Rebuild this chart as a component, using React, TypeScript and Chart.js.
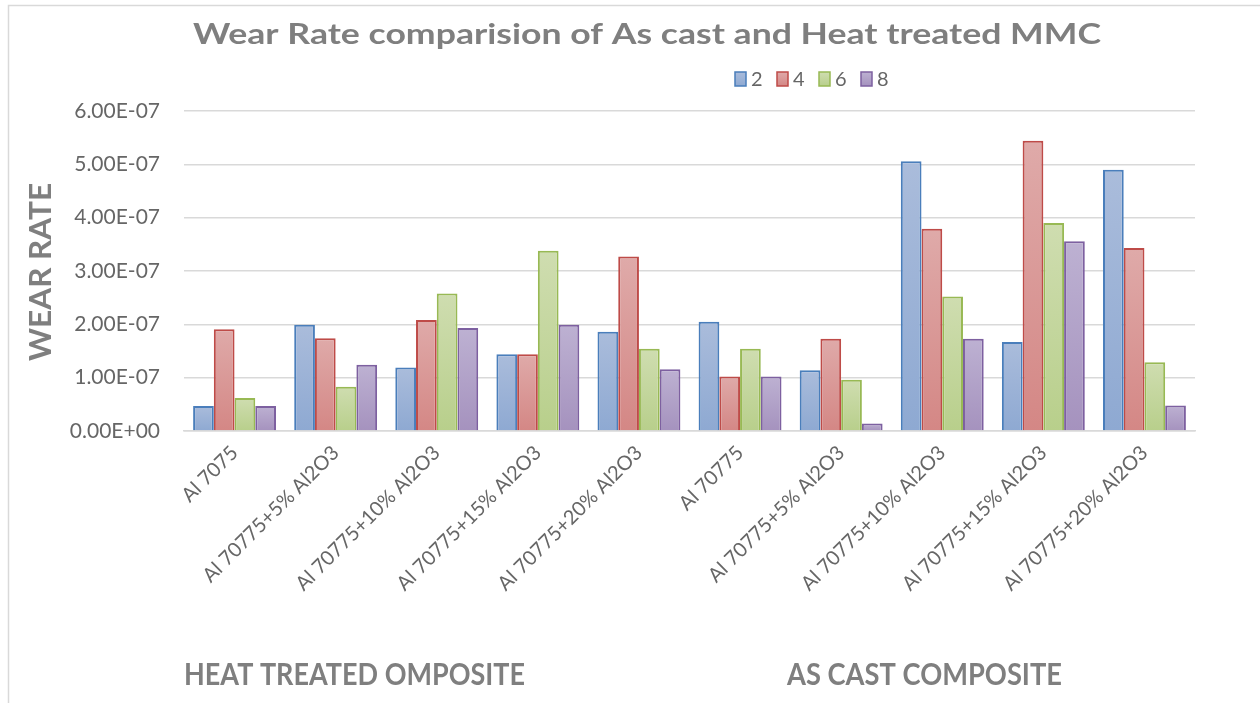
import React, { useEffect, useRef } from "react";
import { Chart, registerables } from "chart.js";

Chart.register(...registerables);

const categories = [
  "Al 7075",
  "Al 70775+5% Al2O3",
  "Al 70775+10% Al2O3",
  "Al 70775+15% Al2O3",
  "Al 70775+20% Al2O3",
  "Al 70775",
  "Al 70775+5% Al2O3",
  "Al 70775+10% Al2O3",
  "Al 70775+15% Al2O3",
  "Al 70775+20% Al2O3",
];

const seriesNames = ["2", "4", "6", "8"];

const series2 = [0.47e-7, 1.99e-7, 1.19e-7, 1.44e-7, 1.86e-7, 2.05e-7, 1.14e-7, 5.06e-7, 1.67e-7, 4.9e-7];
const series4 = [1.91e-7, 1.74e-7, 2.08e-7, 1.44e-7, 3.27e-7, 1.02e-7, 1.73e-7, 3.79e-7, 5.44e-7, 3.43e-7];
const series6 = [0.62e-7, 0.83e-7, 2.58e-7, 3.38e-7, 1.54e-7, 1.54e-7, 0.96e-7, 2.52e-7, 3.9e-7, 1.29e-7];
const series8 = [0.47e-7, 1.24e-7, 1.93e-7, 1.99e-7, 1.16e-7, 1.02e-7, 0.14e-7, 1.73e-7, 3.56e-7, 0.48e-7];

const yTickValues = [0, 1e-7, 2e-7, 3e-7, 4e-7, 5e-7, 6e-7];

const titleText = "Wear Rate comparision of As cast and Heat treated MMC";
const yTitleText = "WEAR RATE";
const groupLabels = ["HEAT TREATED OMPOSITE", "AS CAST COMPOSITE"];

const palette = [
  { border: "#4a7ebb", light: "#aabcdb", dark: "#8ea9d2" },
  { border: "#be4b48", light: "#dfaaa9", dark: "#d48785" },
  { border: "#98b954", light: "#cfddb0", dark: "#b8cf8b" },
  { border: "#7d60a0", light: "#bdb1d2", dark: "#a592be" },
];

function fmtExp(v: number): string {
  const s = v.toExponential(2);
  const [m, e] = s.split("e");
  const sign = e.startsWith("-") ? "-" : "+";
  const digits = e.replace(/[+-]/, "").padStart(2, "0");
  return `${m}E${sign}${digits}`;
}

function fitText(
  ctx: CanvasRenderingContext2D,
  text: string,
  x: number,
  y: number,
  font: string,
  targetWidth: number,
  align: "left" | "center"
) {
  ctx.save();
  ctx.font = font;
  const w = ctx.measureText(text).width;
  const sx = targetWidth / w;
  ctx.translate(x, y);
  ctx.scale(sx, 1);
  ctx.textAlign = align;
  ctx.textBaseline = "alphabetic";
  ctx.fillText(text, 0, 0);
  ctx.restore();
}

const decorPlugin = {
  id: "decor",
  afterDraw(chart: any) {
    const ctx: CanvasRenderingContext2D = chart.ctx;
    ctx.save();
    // outer frame
    ctx.strokeStyle = "#d9d9d9";
    ctx.lineWidth = 1.5;
    ctx.beginPath();
    ctx.moveTo(1260, 5.5);
    ctx.lineTo(8.5, 5.5);
    ctx.lineTo(8.5, 703);
    ctx.stroke();

    // title
    ctx.fillStyle = "#7f7f7f";
    fitText(ctx, titleText, 647, 44, "bold 29px Lato", 908, "center");

    // y axis title
    ctx.save();
    ctx.translate(51, 272);
    ctx.rotate(-Math.PI / 2);
    fitText(ctx, yTitleText, 0, 0, "bold 31px Lato", 178, "center");
    ctx.restore();

    // group labels
    fitText(ctx, groupLabels[0], 184, 685, "bold 30px Lato", 341, "left");
    fitText(ctx, groupLabels[1], 787, 685, "bold 30px Lato", 275, "left");

    // legend
    const datasets = chart.data.datasets;
    let lx = 735;
    ctx.font = "20px Lato";
    ctx.textBaseline = "middle";
    ctx.textAlign = "left";
    datasets.forEach((ds: any, i: number) => {
      const p = palette[i];
      const bx = lx, by = 72, bw = 11, bh = 14;
      const g = ctx.createLinearGradient(0, by, 0, by + bh);
      g.addColorStop(0, p.light);
      g.addColorStop(1, p.dark);
      ctx.fillStyle = g;
      ctx.fillRect(bx, by, bw, bh);
      ctx.strokeStyle = p.border;
      ctx.lineWidth = 1.5;
      ctx.strokeRect(bx, by, bw, bh);
      ctx.fillStyle = "#666666";
      ctx.fillText(ds.label, bx + 16, by + bh / 2 + 1);
      lx += 42;
    });
    ctx.restore();
  },
};

export default function App() {
  const ref = useRef<HTMLCanvasElement | null>(null);

  useEffect(() => {
    document.body.style.margin = "0";
    const canvas = ref.current;
    if (!canvas) return;
    const allSeries = [series2, series4, series6, series8];
    const chart = new Chart(canvas, {
      type: "bar",
      data: {
        labels: categories,
        datasets: allSeries.map((vals, i) => ({
          label: seriesNames[i],
          data: vals,
          borderColor: palette[i].border,
          borderWidth: 2,
          categoryPercentage: 0.82,
          barPercentage: 1.0,
          backgroundColor: (c: any) => {
            const ch = c.chart;
            if (!ch.chartArea || c.type !== "data") return palette[i].dark;
            const ys = ch.scales.y;
            const top = ys.getPixelForValue(c.raw);
            const bottom = ys.getPixelForValue(0);
            const g = ch.ctx.createLinearGradient(0, top, 0, bottom);
            g.addColorStop(0, palette[i].light);
            g.addColorStop(1, palette[i].dark);
            return g;
          },
        })),
      },
      options: {
        responsive: false,
        animation: false,
        layout: { padding: { top: 111, right: 65, bottom: 0, left: 0 } },
        plugins: {
          legend: { display: false },
          title: { display: false },
          tooltip: { enabled: false },
        },
        scales: {
          x: {
            grid: { display: false },
            border: { display: true, color: "#d9d9d9", width: 1.5 },
            ticks: {
              autoSkip: false,
              minRotation: 45,
              maxRotation: 45,
              color: "#666666",
              font: { family: "Lato", size: 20 },
              padding: 2,
            },
            afterFit: (s: any) => {
              s.height = 703 - 431;
            },
          },
          y: {
            min: 0,
            max: 6e-7,
            afterBuildTicks: (s: any) => {
              s.ticks = yTickValues.map((v) => ({ value: v }));
            },
            grid: { color: "#d9d9d9", lineWidth: 1.5, drawTicks: false },
            border: { display: false },
            ticks: {
              color: "#666666",
              font: { family: "Lato", size: 21 },
              padding: 24,
              callback: (v: any) => fmtExp(Number(v)),
            },
            afterFit: (s: any) => {
              s.width = 184;
            },
          },
        },
      },
      plugins: [decorPlugin],
    });
    return () => chart.destroy();
  }, []);

  return (
    <div style={{ width: 1260, height: 703 }}>
      <canvas ref={ref} width={1260} height={703} style={{ display: "block", width: 1260, height: 703 }} />
    </div>
  );
}
